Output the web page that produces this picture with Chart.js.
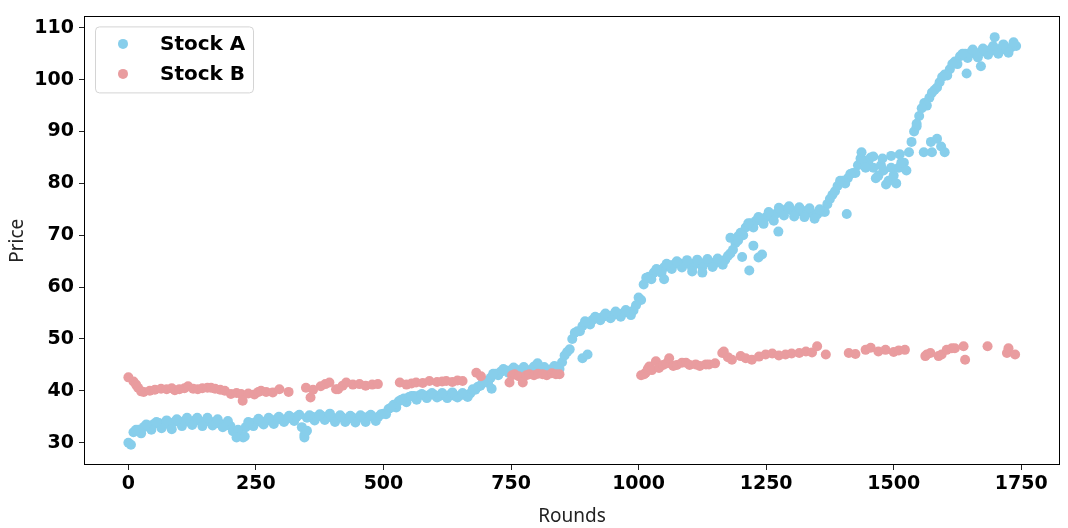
<!DOCTYPE html>
<html>
<head>
<meta charset="utf-8">
<title>Stock A vs Stock B</title>
<script src="https://cdn.jsdelivr.net/npm/chart.js@4.4.1/dist/chart.umd.min.js"></script>
<style>
  body { margin: 0; background: #fff; }
  #wrap { width: 1068px; height: 528px; }
</style>
</head>
<body>
<div id="wrap"><canvas id="prices" width="1068" height="528"></canvas></div>
<script>
// Stock A, one reading every 10 rounds (0 .. 1740)
const stockAPrices = [
  30.0, 32.0, 32.5, 33.0, 33.3, 33.6, 33.8, 33.5, 33.8, 34.0,
  34.1, 34.2, 34.0, 34.3, 34.2, 34.0, 34.1, 33.8, 33.6, 33.4,
  33.2, 32.0, 31.5, 33.0, 33.8, 34.0, 34.0, 34.2, 34.3, 34.5,
  34.5, 34.6, 34.8, 35.0, 33.0, 34.8, 35.0, 35.0, 35.1, 35.0,
  34.8, 34.7, 34.8, 34.6, 34.8, 34.7, 34.9, 35.0, 34.9, 35.0,
  35.6, 36.5, 37.3, 38.0, 38.5, 38.8, 39.0, 39.1, 39.1, 39.2,
  39.2, 39.0, 39.1, 39.2, 39.0, 39.1, 39.2, 39.5, 40.2, 41.0,
  41.8, 42.5, 43.3, 43.7, 43.9, 44.0, 44.1, 43.9, 44.0, 44.1,
  44.2, 44.0, 44.1, 44.2, 44.4, 45.5, 47.5, 50.0, 51.5, 52.5,
  53.2, 53.7, 54.0, 54.3, 54.5, 54.6, 54.8, 55.0, 55.1, 55.5,
  58.0, 60.5, 62.0, 62.8, 63.3, 63.8, 64.2, 64.4, 64.6, 64.5,
  64.4, 64.6, 64.5, 64.7, 64.8, 64.6, 64.9, 65.3, 66.5, 68.5,
  70.5, 71.5, 72.3, 72.8, 73.2, 73.5, 73.8, 74.2, 74.8, 75.0,
  74.8, 74.5, 74.8, 74.4, 74.2, 74.0, 74.6, 76.0, 77.8, 79.5,
  80.5, 81.0, 82.0, 83.5, 84.5, 84.0, 83.0, 81.5, 82.5, 80.5,
  81.5, 83.0, 84.0, 86.0, 90.0, 93.0, 95.5, 96.5, 98.0, 99.5,
  101.0, 102.0, 103.5, 104.5, 105.0, 105.2, 105.0, 105.3, 105.5, 105.8,
  105.6, 106.0, 105.8, 106.2, 106.5
];

// Stock A, lower edge of the band, every 20 rounds starting at round 5
const stockALowPrices = [
  29.6, 31.8, 32.5, 32.8, 32.6,
  33.2, 33.4, 33.2, 33.3, 33.0,
  32.2, 31.0, 33.2, 33.5, 33.6,
  34.0, 34.2, 31.5, 34.3, 34.4,
  34.0, 34.0, 33.9, 34.0, 34.2,
  35.5, 36.8, 37.8, 38.3, 38.6,
  38.7, 38.6, 38.7, 38.8, 40.8,
  41.5, 43.0, 43.5, 43.6, 43.4,
  43.6, 43.7, 44.2, 48.0, 51.5,
  52.8, 53.6, 54.0, 54.3, 54.6,
  57.5, 61.5, 62.8, 63.5, 63.8,
  63.8, 63.9, 63.9, 64.3, 67.2,
  70.0, 71.5, 72.2, 72.8, 73.8,
  73.6, 73.5, 73.2, 74.5, 78.5,
  80.0, 82.0, 83.0, 81.0, 79.8,
  80.0, 82.5, 91.0, 95.0, 98.5,
  100.8, 103.0, 104.2, 104.3, 104.8,
  105.0, 105.2
];

// Stock A, upper edge of the band, every 20 rounds starting at round 15
const stockAHighPrices = [
  32.5, 33.5, 34.0, 34.3, 34.5,
  34.8, 34.8, 34.8, 34.5, 34.2,
  32.5, 34.0, 34.6, 34.8, 35.0,
  35.2, 35.4, 35.3, 35.5, 35.6,
  35.3, 35.2, 35.3, 35.4, 35.5,
  36.8, 38.3, 39.0, 39.4, 39.6,
  39.6, 39.7, 39.6, 40.3, 41.8,
  43.3, 44.2, 44.5, 44.6, 44.7,
  44.6, 44.8, 46.8, 51.2, 53.4,
  54.3, 54.9, 55.3, 55.6, 56.5,
  61.8, 63.5, 64.5, 65.0, 65.2,
  65.3, 65.4, 65.5, 66.0, 69.8,
  72.3, 73.5, 74.5, 75.3, 75.6,
  75.4, 75.2, 75.0, 77.0, 80.5,
  81.8, 84.8, 85.0, 83.5, 83.0,
  84.0, 88.0, 94.5, 97.5, 100.5,
  103.0, 105.0, 105.8, 106.0, 106.5,
  106.8, 107.2
];

// Stock A, stray points away from the band
const stockAStrayRounds = [212, 228, 345, 350, 712, 802, 890, 900, 1050, 1105, 1125,
  1180, 1195, 1203, 1217, 1225, 1235, 1242, 1274, 1408, 1437, 1460, 1478, 1495, 1512,
  1545, 1559, 1573, 1575, 1585, 1593, 1600, 1643, 1671, 1698];
const stockAStrayPrices = [31.0, 31.2, 31.0, 32.3, 40.4, 45.3, 46.3, 47.0, 61.5, 63.0, 62.8,
  69.5, 69.0, 65.8, 63.2, 68.0, 65.7, 66.3, 70.7, 74.1, 86.0, 85.2, 84.8, 85.3, 85.6,
  91.5, 86.0, 88.0, 86.0, 88.6, 87.1, 86.0, 101.2, 102.6, 108.2];

// Stock B
const stockBRounds = [0, 10, 15, 19, 25, 30, 42, 52, 64, 75, 85, 91, 100, 110, 117, 127, 136,
  145, 155, 162, 170, 180, 189, 201, 212, 221, 224, 235, 247, 255, 260, 270, 283, 296, 314,
  348, 357, 362, 377, 386, 394, 407, 411, 420, 427, 440, 453, 465, 478, 489,
  532, 545, 555, 564, 577, 590, 605, 615, 623, 635, 645, 655, 682, 691,
  747, 752, 757, 765, 773, 780, 786, 795, 803, 812, 820, 830, 838, 845,
  1005, 1011, 1014, 1018, 1021, 1026, 1034, 1040, 1048, 1055, 1060, 1068, 1075, 1085, 1093,
  1100, 1112, 1120, 1132, 1138, 1150, 1164, 1167, 1175, 1183, 1200, 1210, 1222, 1236, 1249,
  1262, 1275, 1288, 1300, 1315, 1328, 1340, 1350, 1367, 1412, 1425, 1445, 1455, 1470, 1484,
  1500, 1510, 1522, 1562, 1565, 1572, 1588, 1594, 1604, 1614, 1620, 1637, 1640, 1684,
  1722, 1725, 1738];
const stockBPrices = [42.6, 41.8, 41.2, 40.6, 39.9, 39.8, 40.0, 40.2, 40.4, 40.3, 40.5, 40.1, 40.3, 40.5, 40.9, 40.4, 40.3,
  40.5, 40.6, 40.6, 40.4, 40.2, 40.0, 39.4, 39.6, 39.4, 38.1, 39.5, 39.3, 39.8, 40.0, 39.8, 39.7, 40.3, 39.8,
  40.6, 38.7, 40.2, 40.9, 41.3, 41.6, 40.3, 40.3, 41.0, 41.6, 41.2, 41.3, 41.0, 41.2, 41.3,
  41.6, 41.2, 41.4, 41.6, 41.5, 41.9, 41.7, 41.8, 41.9, 41.7, 42.0, 41.9, 43.5, 42.8,
  41.6, 43.0, 43.2, 42.8, 41.6, 43.0, 43.2, 43.0, 43.3, 43.2, 43.0, 43.4, 43.2, 43.2,
  43.0, 43.2, 43.5, 44.2, 44.7, 44.0, 45.7, 44.4, 45.0, 45.3, 46.3, 44.8, 45.0, 45.4, 45.4,
  45.0, 45.1, 44.8, 45.1, 45.1, 45.3, 47.3, 47.6, 46.5, 46.0, 46.7, 46.3, 46.0, 46.6, 47.0,
  47.2, 46.8, 47.0, 47.2, 47.3, 47.6, 47.4, 48.6, 47.0, 47.3, 47.1, 47.9, 48.3, 47.6, 47.9,
  47.5, 47.8, 47.9, 46.7, 47.0, 47.3, 46.7, 47.0, 47.9, 48.2, 48.2, 48.6, 46.0, 48.6,
  47.3, 48.2, 47.0];

const xTicks = [0, 250, 500, 750, 1000, 1250, 1500, 1750];
const yTicks = [30, 40, 50, 60, 70, 80, 90, 100, 110];

const colorA = "#87CEEB";
const colorB = "#E99C9F";

// costruisce i punti {x, y}
const stockAPoints = [];
stockAPrices.forEach((p, i) => stockAPoints.push({ x: i * 10, y: p }));
stockALowPrices.forEach((p, i) => stockAPoints.push({ x: 5 + i * 20, y: p }));
stockAHighPrices.forEach((p, i) => stockAPoints.push({ x: 15 + i * 20, y: p }));
stockAStrayRounds.forEach((r, i) => stockAPoints.push({ x: r, y: stockAStrayPrices[i] }));
const stockBPoints = stockBRounds.map((r, i) => ({ x: r, y: stockBPrices[i] }));

const tickFont = { family: "'DejaVu Sans'", size: 19, weight: "bold" };
const titleFont = { family: "'Noto Sans'", size: 19, weight: "normal" };

// frame around the plot + legend box in the top left corner
const frameAndLegend = {
    id: "frameAndLegend",
    afterDatasetsDraw(chart) {
        const { ctx, chartArea: a } = chart;
        ctx.save();
        ctx.strokeStyle = "#000";
        ctx.lineWidth = 1;
        ctx.strokeRect(Math.round(a.left) + 0.5, Math.round(a.top) + 0.5,
            Math.round(a.width) - 1, Math.round(a.height) - 1);

        const bx = a.left + 11.5, by = a.top + 10.5, bw = 158, bh = 66;
        ctx.beginPath();
        ctx.roundRect(bx, by, bw, bh, 4);
        ctx.fillStyle = "rgba(255,255,255,0.8)";
        ctx.fill();
        ctx.strokeStyle = "#d4d4d4";
        ctx.stroke();

        const items = [["Stock A", colorA], ["Stock B", colorB]];
        ctx.font = "bold 20px 'DejaVu Sans'";
        ctx.textBaseline = "middle";
        items.forEach(([label, color], i) => {
            const cy = by + 17 + i * 30;
            ctx.beginPath();
            ctx.arc(bx + 27.5, cy, 5, 0, Math.PI * 2);
            ctx.fillStyle = color;
            ctx.fill();
            ctx.fillStyle = "#000";
            ctx.fillText(label, bx + 64.5, cy + 1);
        });
        ctx.restore();
    }
};

new Chart(document.getElementById("prices"), {
    type: "scatter",
    data: {
        datasets: [
            {
                label: "Stock A",
                data: stockAPoints,
                backgroundColor: colorA,
                borderWidth: 0,
                pointRadius: 5,
                order: 2
            },
            {
                label: "Stock B",
                data: stockBPoints,
                backgroundColor: colorB,
                borderWidth: 0,
                pointRadius: 5,
                order: 1
            }
        ]
    },
    options: {
        responsive: false,
        animation: false,
        events: [],
        layout: { padding: { left: 0, right: 8, top: 12, bottom: 0 } },
        plugins: {
            legend: { display: false },
            tooltip: { enabled: false }
        },
        scales: {
            x: {
                type: "linear",
                min: -87,
                max: 1826,
                afterBuildTicks: axis => { axis.ticks = xTicks.map(v => ({ value: v })); },
                afterFit: axis => { axis.height = 63; },
                grid: { drawOnChartArea: false, tickLength: 5, color: "#222", lineWidth: 1 },
                border: { display: false },
                ticks: { font: tickFont, color: "#000", padding: 3, maxRotation: 0, callback: v => String(v) },
                title: { display: true, text: "Rounds", font: titleFont, color: "#222", padding: { top: 0, bottom: 0 } }
            },
            y: {
                min: 25.7,
                max: 112.2,
                afterBuildTicks: axis => { axis.ticks = yTicks.map(v => ({ value: v })); },
                afterFit: axis => { axis.width = 84; },
                grid: { drawOnChartArea: false, tickLength: 5, color: "#222", lineWidth: 1 },
                border: { display: false },
                ticks: { font: tickFont, color: "#000", padding: 5, callback: v => String(v) },
                title: { display: true, text: "Price", font: titleFont, color: "#222", padding: { top: 6, bottom: 0 } }
            }
        }
    },
    plugins: [frameAndLegend]
});
</script>
</body>
</html>
